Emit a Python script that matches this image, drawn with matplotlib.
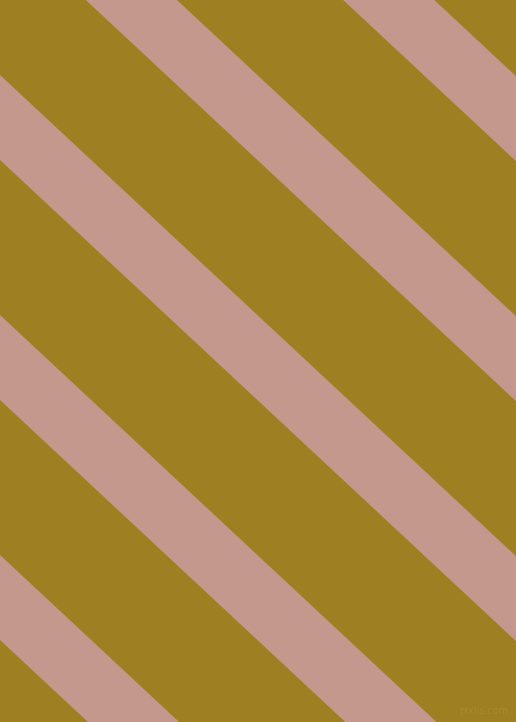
#!/usr/bin/env python3

import numpy as np
import matplotlib
matplotlib.use("Agg")
import matplotlib.pyplot as plt

# picture size in pixels
width = 516
height = 722

# stripe layout (pixel units)
angle_deg = 43
stripe_tops_at_left = [-405, -165, 75, 315, 555, 795]
stripe_thickness = 85

background_color = "#9E8022"
stripe_color = "#C4988C"

slope = np.tan(np.radians(angle_deg))

fig = plt.figure(figsize=(width / 100, height / 100), dpi=100)
ax = fig.add_axes([0, 0, 1, 1])
ax.set_facecolor(background_color)
fig.patch.set_facecolor(background_color)

x = np.array([0, width])
for y0 in stripe_tops_at_left:
    top = y0 + slope * x
    ax.fill_between(x, top, top + stripe_thickness, color=stripe_color, linewidth=0)

ax.text(width - 8, height - 6, "pixlis.com", color="#A88A30", fontsize=7,
        ha="right", va="bottom")

ax.set_xlim(0, width)
ax.set_ylim(height, 0)
ax.axis("off")

plt.savefig("out.png", dpi=100, facecolor=background_color)
